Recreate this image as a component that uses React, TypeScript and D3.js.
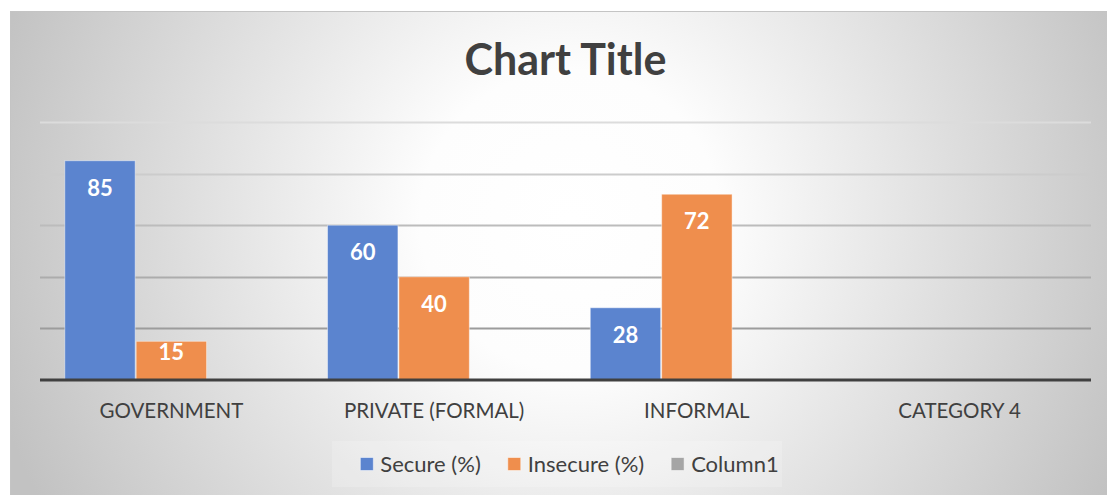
import React from "react";
import * as d3 from "d3";

const categories = ["GOVERNMENT", "PRIVATE (FORMAL)", "INFORMAL", "CATEGORY 4"];
const seriesNames = ["Secure (%)", "Insecure (%)", "Column1"];
const secureValues: (number | null)[] = [85, 60, 28, null];
const insecureValues: (number | null)[] = [15, 40, 72, null];
const column1Values: (number | null)[] = [null, null, null, null];
const yTicks = [0, 20, 40, 60, 80, 100];
const titleText = "Chart Title";

const W = 1107;
const H = 495;
const FONT = "Lato, 'Open Sans', sans-serif";
const colors = ["#5b84cf", "#ef8e4d", "#a5a5a5"];

function measure(text: string, font: string): number {
  if (typeof document === "undefined") return text.length * 9;
  const c = document.createElement("canvas");
  const ctx = c.getContext("2d");
  if (!ctx) return text.length * 9;
  ctx.font = font;
  return ctx.measureText(text).width;
}

export default function App() {
  const series = [secureValues, insecureValues, column1Values];
  const plot = { left: 40, right: 1091, top: 122, bottom: 380 };
  const x = d3.scaleBand<string>().domain(categories).range([plot.left, plot.right]).padding(0);
  const xs = d3
    .scaleBand<string>()
    .domain(seriesNames)
    .range([0, x.bandwidth()])
    .paddingInner(0)
    .paddingOuter(0.34);
  const y = d3.scaleLinear().domain([0, 100]).range([plot.bottom, plot.top]);
  const gridColor = d3.scaleLinear<string>().domain([20, 100]).range(["#9c9c9c", "#dcdcdc"]);

  const legendFontSize = 22;
  const sq = 13;
  const legendItems = seriesNames.map((n) => ({
    name: n,
    w: sq + 7 + measure(n, `${legendFontSize}px Lato`),
  }));
  const legendGap = 27;
  const legendTotal = d3.sum(legendItems, (d) => d.w) + legendGap * (legendItems.length - 1);
  const legendStart = (plot.left + plot.right) / 2 + 4 - legendTotal / 2;
  let acc = legendStart;
  const legendPos = legendItems.map((it) => {
    const p = acc;
    acc += it.w + legendGap;
    return { ...it, x: p };
  });
  const legendY = 464;

  return (
    <svg width={W} height={H} style={{ position: "absolute", left: 0, top: 0 }}>
      <defs>
        <radialGradient id="bg" gradientUnits="userSpaceOnUse" cx={570} cy={220} r={600}>
          <stop offset="0" stopColor="#ffffff" />
          <stop offset="0.25" stopColor="#fdfdfd" />
          <stop offset="1" stopColor="#c2c2c2" />
        </radialGradient>
      </defs>
      <rect x={0} y={0} width={W} height={H} fill="#ffffff" />
      <rect x={10} y={11} width={W - 10} height={H - 11} fill="url(#bg)" />
      <line x1={10} x2={W} y1={11.5} y2={11.5} stroke="#c4c4c4" strokeWidth={1} />
      <line x1={10.5} x2={10.5} y1={11} y2={H} stroke="#c4c4c4" strokeWidth={1} />

      <text
        x={(plot.left + plot.right) / 2}
        y={75}
        textAnchor="middle"
        fontFamily={FONT}
        fontWeight={700}
        fontSize={43}
        fill="#404040"
      >
        {titleText}
      </text>

      {yTicks
        .filter((t) => t > 0)
        .map((t) => (
          <line
            key={t}
            x1={plot.left}
            x2={plot.right}
            y1={Math.round(y(t)) + 0.5}
            y2={Math.round(y(t)) + 0.5}
            stroke={gridColor(t)}
            strokeWidth={2}
          />
        ))}

      {categories.map((c, ci) => (
        <g key={c}>
          {series.map((vals, si) => {
            const v = vals[ci];
            if (v == null) return null;
            const bx = (x(c) as number) + (xs(seriesNames[si]) as number);
            const bw = xs.bandwidth();
            const top = y(v);
            const h = plot.bottom - top;
            const ly = top + (h < 60 ? 11 : 27);
            return (
              <g key={si}>
                <rect
                  x={bx + 0.5}
                  y={top}
                  width={bw - 1}
                  height={h}
                  fill={colors[si]}
                  stroke="#ffffff"
                  strokeOpacity={0.45}
                  strokeWidth={1}
                />
                <text
                  x={bx + bw / 2}
                  y={ly}
                  dy="0.36em"
                  textAnchor="middle"
                  fontFamily={FONT}
                  fontWeight={700}
                  fontSize={22}
                  fill="#ffffff"
                >
                  {v}
                </text>
              </g>
            );
          })}
          <text
            x={(x(c) as number) + x.bandwidth() / 2}
            y={418}
            textAnchor="middle"
            fontFamily={FONT}
            fontSize={20.5}
            fill="#404040"
          >
            {c}
          </text>
        </g>
      ))}

      <line x1={plot.left} x2={plot.right} y1={plot.bottom} y2={plot.bottom} stroke="#404040" strokeWidth={3} />

      <rect x={332} y={441} width={450} height={46} fill="#ffffff" opacity={0.18} />
      {legendPos.map((it, i) => (
        <g key={it.name}>
          <rect
            x={it.x}
            y={legendY - sq / 2}
            width={sq}
            height={sq}
            fill={colors[i]}
            stroke="#ffffff"
            strokeOpacity={0.5}
          />
          <text
            x={it.x + sq + 7}
            y={legendY}
            dy="0.36em"
            fontFamily={FONT}
            fontSize={legendFontSize}
            fill="#404040"
          >
            {it.name}
          </text>
        </g>
      ))}
    </svg>
  );
}
